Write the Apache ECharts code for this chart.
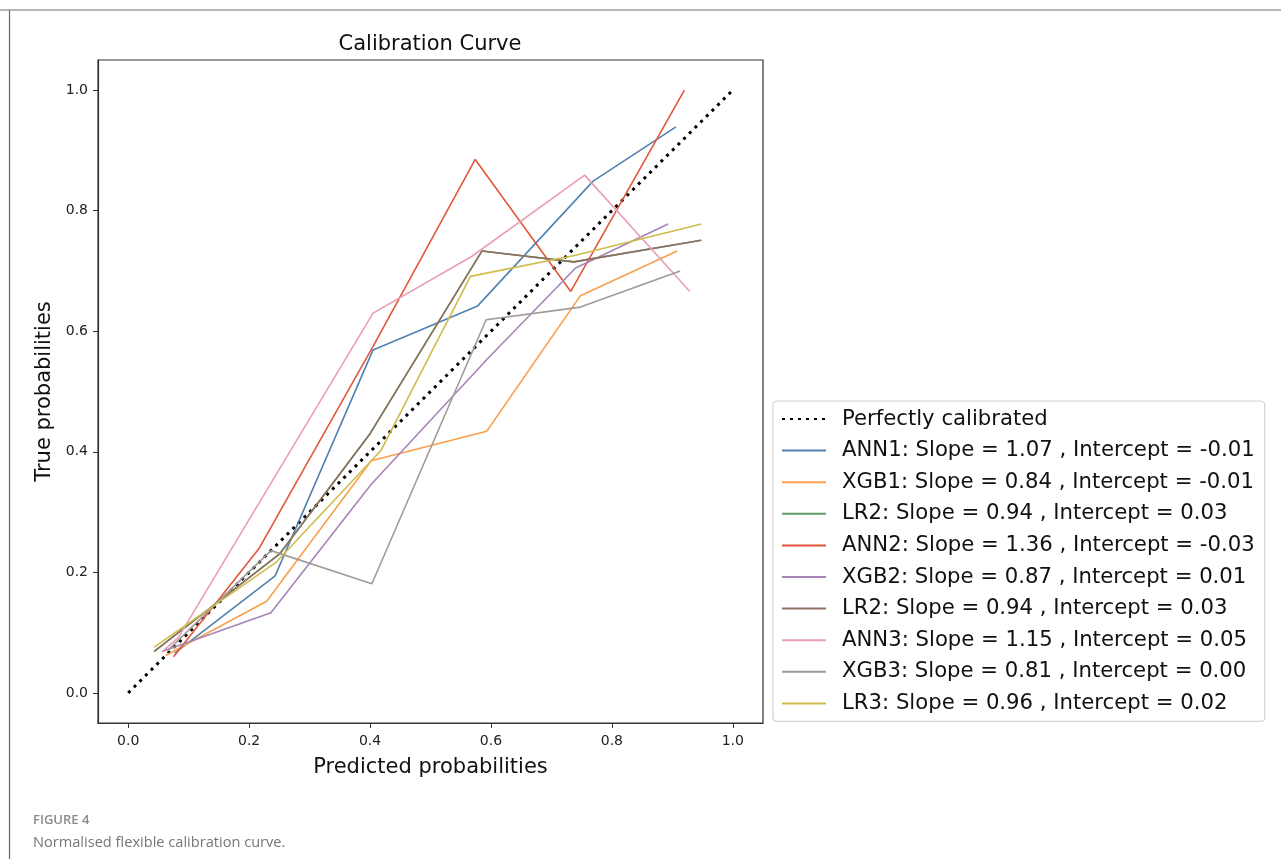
<!DOCTYPE html>
<html>
<head>
<meta charset="utf-8">
<script src="https://cdn.jsdelivr.net/npm/echarts@6/dist/echarts.min.js"></script>
<style>
  html, body { margin: 0; padding: 0; background: #fff; }
  #chart { width: 1281px; height: 859px; }
</style>
</head>
<body>
<div id="chart"></div>
<script>
// values
const perfectX = [0, 1];
const perfectY = [0, 1];

const ann1X = [0.077, 0.243, 0.405, 0.578, 0.769, 0.906];
const ann1Y = [0.066, 0.194, 0.569, 0.642, 0.849, 0.939];
const xgb1X = [0.062, 0.229, 0.402, 0.593, 0.748, 0.908];
const xgb1Y = [0.062, 0.152, 0.385, 0.434, 0.659, 0.733];
const lr2X = [0.043, 0.250, 0.400, 0.585, 0.737, 0.948];
const lr2Y = [0.069, 0.230, 0.430, 0.733, 0.715, 0.751];
const ann2X = [0.075, 0.216, 0.405, 0.574, 0.732, 0.920];
const ann2Y = [0.060, 0.239, 0.575, 0.885, 0.666, 1.000];
const xgb2X = [0.057, 0.236, 0.402, 0.594, 0.740, 0.893];
const xgb2Y = [0.069, 0.133, 0.346, 0.554, 0.705, 0.778];
const ann3X = [0.056, 0.083, 0.405, 0.568, 0.755, 0.929];
const ann3Y = [0.068, 0.092, 0.630, 0.724, 0.859, 0.666];
const xgb3X = [0.065, 0.236, 0.403, 0.592, 0.748, 0.913];
const xgb3Y = [0.070, 0.236, 0.181, 0.619, 0.640, 0.700];
const lr3X = [0.043, 0.245, 0.418, 0.566, 0.740, 0.948];
const lr3Y = [0.076, 0.217, 0.402, 0.691, 0.726, 0.778];

const tickValues = [0, 0.2, 0.4, 0.6, 0.8, 1.0];

// legend labels (second LR2 gets a trailing space so the legend keeps both rows)
const labels = [
  'Perfectly calibrated',
  'ANN1: Slope = 1.07 , Intercept = -0.01',
  'XGB1: Slope = 0.84 , Intercept = -0.01',
  'LR2: Slope = 0.94 , Intercept = 0.03',
  'ANN2: Slope = 1.36 , Intercept = -0.03',
  'XGB2: Slope = 0.87 , Intercept = 0.01',
  'LR2: Slope = 0.94 , Intercept = 0.03 ',
  'ANN3: Slope = 1.15 , Intercept = 0.05',
  'XGB3: Slope = 0.81 , Intercept = 0.00',
  'LR3: Slope = 0.96 , Intercept = 0.02'
];
const colors = ['#000000', '#4f82b1', '#f9a04c', '#5c9e6e', '#e2573b', '#a784b8',
                '#8f6f60', '#e99fb1', '#a09a98', '#d1bb48'];
const xs = [perfectX, ann1X, xgb1X, lr2X, ann2X, xgb2X, lr2X, ann3X, xgb3X, lr3X];
const ys = [perfectY, ann1Y, xgb1Y, lr2Y, ann2Y, xgb2Y, lr2Y, ann3Y, xgb3Y, lr3Y];

function pairs(x, y) {
  return x.map((v, i) => [v, y[i]]);
}

const chart = echarts.init(document.getElementById('chart'));

const series = labels.map(function (name, i) {
  const dotted = i === 0;
  return {
    name: name,
    type: 'line',
    data: pairs(xs[i], ys[i]),
    showSymbol: false,
    symbol: 'none',
    silent: true,
    animation: false,
    color: colors[i],
    lineStyle: dotted
      ? { color: '#000', width: 3, type: [3, 5], cap: 'butt' }
      : { color: colors[i], width: 1.6 },
    z: 2 + i
  };
});

const axisText = { color: '#222', fontSize: 14, fontFamily: 'DejaVu Sans' };

const option = {
  backgroundColor: '#fff',
  animation: false,
  title: [
    {
      text: 'Calibration Curve',
      left: 430, top: 34, textAlign: 'center', padding: 0,
      textStyle: { fontFamily: 'DejaVu Sans', fontSize: 21, fontWeight: 'normal', color: '#111' }
    },
    {
      text: 'FIGURE 4',
      left: 33, top: 814, padding: 0,
      textStyle: { fontFamily: 'Open Sans', fontSize: 13, fontWeight: 600, color: '#8a8a8a' }
    },
    {
      text: 'Normalised flexible calibration curve.',
      left: 33, top: 835, padding: 0,
      textStyle: { fontFamily: 'Open Sans', fontSize: 14.6, fontWeight: 'normal', color: '#777' }
    }
  ],
  grid: {
    left: 98, right: 518, top: 60, bottom: 136,
    show: true, borderColor: '#333', borderWidth: 1.2,
    containLabel: false
  },
  xAxis: {
    type: 'value',
    min: -0.05, max: 1.05,
    name: 'Predicted probabilities',
    nameLocation: 'middle',
    nameGap: 34,
    nameTextStyle: { fontFamily: 'DejaVu Sans', fontSize: 21, color: '#111' },
    axisLine: { show: true, onZero: false, lineStyle: { color: '#333', width: 1.2 } },
    axisTick: { show: true, length: 5, customValues: tickValues, lineStyle: { color: '#333' } },
    axisLabel: Object.assign({ margin: 11, customValues: tickValues, formatter: v => v.toFixed(1) }, axisText),
    splitLine: { show: false }
  },
  yAxis: {
    type: 'value',
    min: -0.05, max: 1.05,
    name: 'True probabilities',
    nameLocation: 'middle',
    nameGap: 38,
    nameRotate: 90,
    nameTextStyle: { fontFamily: 'DejaVu Sans', fontSize: 21, color: '#111' },
    axisLine: { show: true, onZero: false, lineStyle: { color: '#333', width: 1.2 } },
    axisTick: { show: true, length: 5, customValues: tickValues, lineStyle: { color: '#333' } },
    axisLabel: Object.assign({ margin: 10, customValues: tickValues, formatter: v => v.toFixed(1) }, axisText),
    splitLine: { show: false }
  },
  legend: {
    orient: 'vertical',
    left: 773, top: 401,
    data: labels,
    selectedMode: false,
    itemWidth: 44,
    itemHeight: 22,
    itemGap: 9.6,
    padding: [7, 10, 7, 8],
    borderColor: '#d6d2d0',
    borderWidth: 1.2,
    borderRadius: 4,
    backgroundColor: '#fff',
    itemStyle: { opacity: 0 },
    textStyle: {
      fontFamily: 'DejaVu Sans', fontSize: 21.2, color: '#111',
      lineHeight: 22, padding: [0, 0, 0, 11]
    }
  },
  graphic: [
    { type: 'line', shape: { x1: 0, y1: 10, x2: 1281, y2: 10 }, style: { stroke: '#b8b8b8', lineWidth: 2 } },
    { type: 'line', shape: { x1: 9.5, y1: 10, x2: 9.5, y2: 859 }, style: { stroke: '#666', lineWidth: 1.2 } }
  ],
  series: series
};

chart.setOption(option);
</script>
</body>
</html>
